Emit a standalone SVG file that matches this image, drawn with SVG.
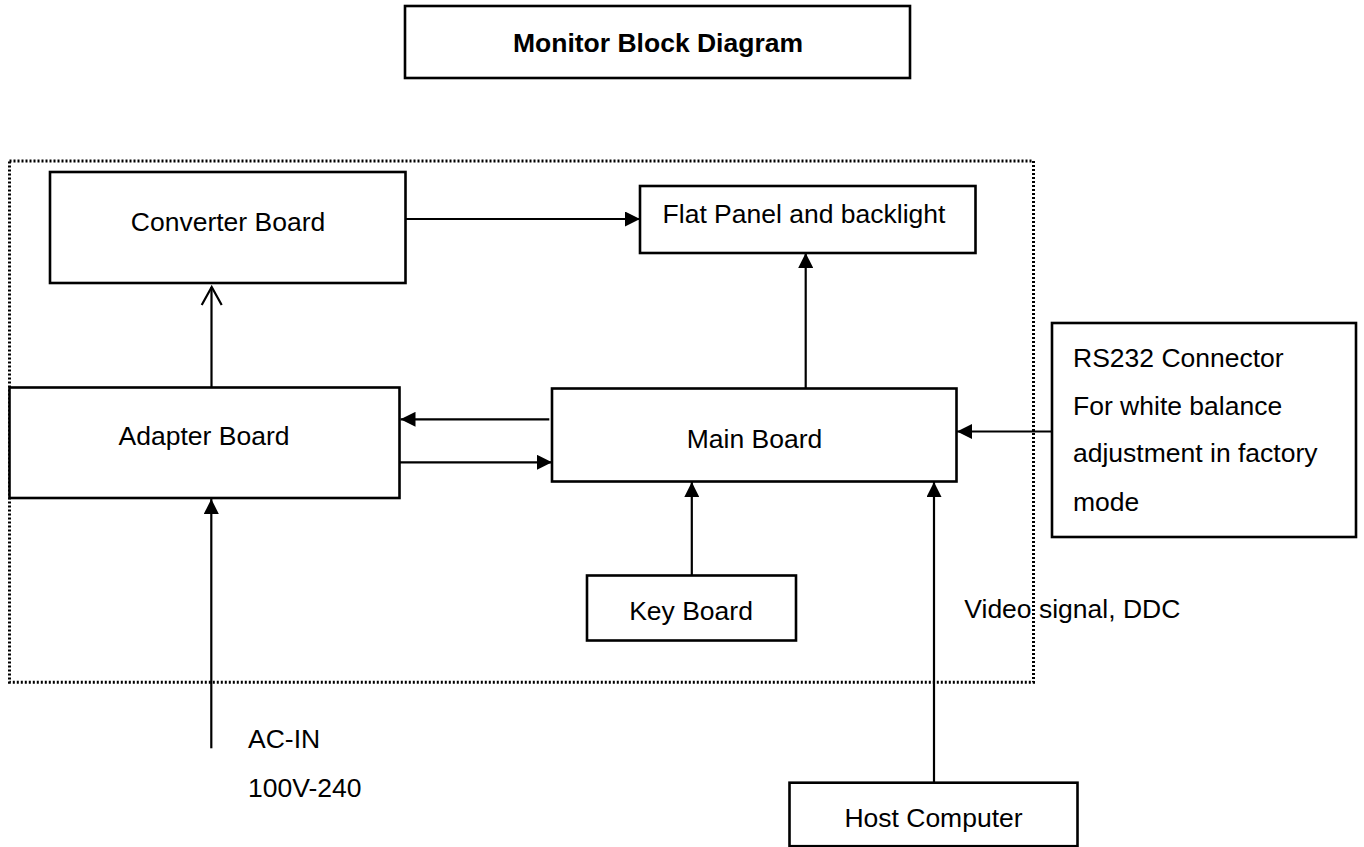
<svg xmlns="http://www.w3.org/2000/svg" width="1364" height="847" viewBox="0 0 1364 847">
<style>
  .box{fill:#fff;stroke:#000;stroke-width:2.6}
  .t{font-family:"Liberation Sans",Arial,sans-serif;font-size:26.5px;fill:#000}
  .c{text-anchor:middle}
  .ln{fill:none;stroke:#000;stroke-width:2.2}
  .frame{fill:none;stroke:#000;stroke-width:3;stroke-dasharray:2 2}
</style>
<defs>
  <marker id="ah" viewBox="0 0 15 15" refX="15" refY="7.5" markerWidth="15" markerHeight="15" markerUnits="userSpaceOnUse" orient="auto">
    <path d="M0,0 L15,7.5 L0,15 z" fill="#000"/>
  </marker>
</defs>
<rect width="1364" height="847" fill="#fff"/>

<g id="title">
  <rect class="box" x="405" y="6" width="505" height="72"/>
  <text class="t c" x="658" y="52" font-weight="bold">Monitor Block Diagram</text>
</g>

<g id="monitor-frame">
  <rect class="frame" x="9.5" y="161" width="1024" height="521.3"/>
</g>

<g id="connectors">
  <line class="ln" x1="211.5" y1="387.5" x2="211.5" y2="287"/>
  <polyline class="ln" points="201.7,305 211.7,287 221.7,305"/>
  <line class="ln" x1="405.5" y1="219" x2="640" y2="219" marker-end="url(#ah)"/>
  <line class="ln" x1="805.7" y1="388.5" x2="805.7" y2="253" marker-end="url(#ah)"/>
  <line class="ln" x1="549.3" y1="419.3" x2="400.5" y2="419.3" marker-end="url(#ah)"/>
  <line class="ln" x1="399.5" y1="462.3" x2="552" y2="462.3" marker-end="url(#ah)"/>
  <line class="ln" x1="1052" y1="431.5" x2="957" y2="431.5" marker-end="url(#ah)"/>
  <line class="ln" x1="691.8" y1="575.5" x2="691.8" y2="482" marker-end="url(#ah)"/>
  <line class="ln" x1="934" y1="782.7" x2="934" y2="482" marker-end="url(#ah)"/>
  <line class="ln" x1="211.3" y1="748.3" x2="211.3" y2="499" marker-end="url(#ah)"/>
</g>

<g id="converter-board">
  <rect class="box" x="50" y="172" width="355.5" height="111"/>
  <text class="t c" x="228" y="231">Converter Board</text>
</g>

<g id="flat-panel">
  <rect class="box" x="640" y="186" width="335.5" height="67"/>
  <text class="t c" x="804" y="223">Flat Panel and backlight</text>
</g>

<g id="adapter-board">
  <rect class="box" x="9.5" y="387.5" width="390" height="110.5"/>
  <text class="t c" x="204" y="445">Adapter Board</text>
</g>

<g id="main-board">
  <rect class="box" x="552" y="388.5" width="404.5" height="93"/>
  <text class="t c" x="754.5" y="447.7">Main Board</text>
</g>

<g id="rs232-connector">
  <rect class="box" x="1052" y="323" width="304" height="214"/>
  <text class="t" x="1073" y="366.7">RS232 Connector</text>
  <text class="t" x="1073" y="414.5">For white balance</text>
  <text class="t" x="1073" y="462">adjustment in factory</text>
  <text class="t" x="1073" y="510.5">mode</text>
</g>

<g id="key-board">
  <rect class="box" x="587" y="575.5" width="209" height="65"/>
  <text class="t c" x="691" y="620">Key Board</text>
</g>

<g id="host-computer">
  <rect class="box" x="789.5" y="782.7" width="288" height="63.5"/>
  <text class="t c" x="933.5" y="826.7">Host Computer</text>
</g>

<g id="labels">
  <text class="t" x="248" y="747.5">AC-IN</text>
  <text class="t" x="248" y="796.5">100V-240</text>
  <text class="t" x="964.3" y="618">Video signal, DDC</text>
</g>
</svg>
